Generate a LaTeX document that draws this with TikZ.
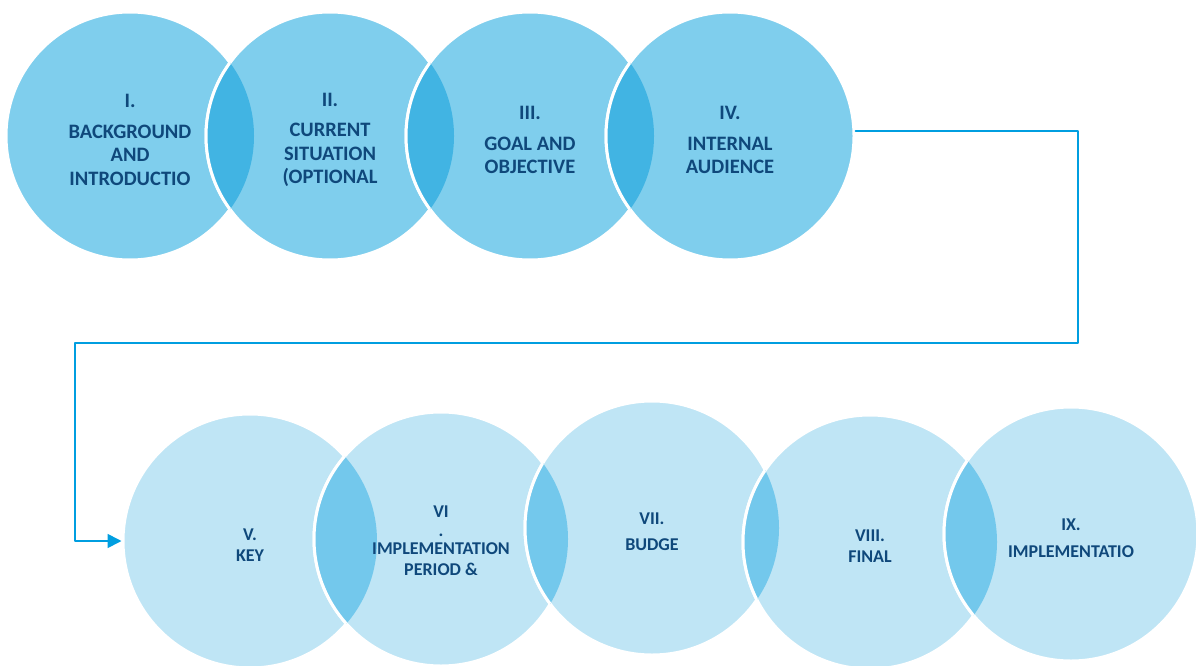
\documentclass[tikz,border=0pt]{standalone}
\usepackage{fontspec}
\setmainfont{Carlito}
\usetikzlibrary{arrows.meta}
\definecolor{topfill}{HTML}{7FCEED}
\definecolor{toplens}{HTML}{41B4E3}
\definecolor{lowfill}{HTML}{BFE5F5}
\definecolor{lowlens}{HTML}{73C8EC}
\definecolor{navy}{HTML}{0F487B}
\definecolor{flow}{HTML}{009EE0}
\begin{document}
\begin{tikzpicture}[line cap=round, line join=round, x=1pt, y=-1pt, >={Triangle[length=14pt,width=14pt]}]
	\tikzset{topdisc/.style={circle, fill=topfill, draw=white, line width=3pt, minimum size=248pt, inner sep=0pt},
		lowdisc/.style={topdisc, fill=lowfill, minimum size=254pt},
		toptext/.style={text=navy, align=center, yshift=-4pt, font=\fontsize{20.5}{23.5}\selectfont\bfseries},
		lowtext/.style={text=navy, align=center, yshift=-4pt, font=\fontsize{18}{21}\selectfont\bfseries},
		conn/.style={draw=flow, line width=1.7pt}}
	\useasboundingbox (0,0) rectangle (1196,666);
	\foreach \i/\cx in {1/130,2/330,3/530,4/730}
		\node[topdisc] (c\i) at (\cx,136) {};
	\foreach \a/\b in {1/2,2/3,3/4}{
		\begin{scope}
			\clip (c\a.center) circle (124pt);
			\fill[toplens] (c\b.center) circle (124pt);
			\draw[white, line width=3pt] (c\b.center) circle (124pt);
		\end{scope}}
	\foreach \i/\cx/\cy in {5/250/541,6/441/539,7/652/528,8/870/542,9/1071/534}
		\node[lowdisc] (c\i) at (\cx,\cy) {};
	\foreach \a/\b in {5/6,6/7,7/8,8/9}{
		\begin{scope}
			\clip (c\a.center) circle (127pt);
			\fill[lowlens] (c\b.center) circle (127pt);
			\draw[white, line width=3pt] (c\b.center) circle (127pt);
		\end{scope}}
	\node[toptext] (t1) at (c1) {I.\\[7pt]BACKGROUND\\AND\\INTRODUCTIO};
	\node[toptext] (t2) at (c2) {II.\\[7pt]CURRENT\\SITUATION\\(OPTIONAL};
	\node[toptext] (t3) at (c3) {III.\\[7pt]GOAL AND\\OBJECTIVE};
	\node[toptext] (t4) at (c4) {IV.\\[7pt]INTERNAL\\AUDIENCE};
	\node[lowtext] (t5) at (c5) {V.\\KEY};
	\node[lowtext, yshift=2pt] (t6) at (c6) {VI\\[-2pt].\\[-3pt]IMPLEMENTATION\\PERIOD \&};
	\node[lowtext] (t7) at (c7) {VII.\\[5pt]BUDGE};
	\node[lowtext] (t8) at (c8) {VIII.\\FINAL};
	\node[lowtext] (t9) at (c9) {IX.\\[6pt]IMPLEMENTATIO};
	\coordinate (turnR) at (1078,343);
	\coordinate (turnL) at (75,343);
	\draw[conn,->] ([yshift=5pt]c4.east) -| (turnR) -- (turnL) |- (c5.west);
\end{tikzpicture}
\end{document}
